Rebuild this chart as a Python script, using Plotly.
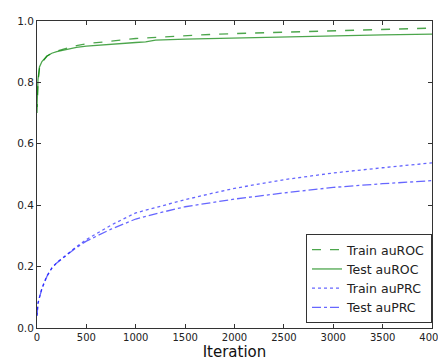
import plotly.graph_objects as go

iterations = [0, 10, 25, 50, 100, 150, 200, 300, 400, 500, 750, 1000, 1100, 1200,
              1500, 1750, 2000, 2500, 3000, 3500, 4000]
train_auroc = [0.70, 0.80, 0.845, 0.865, 0.885, 0.895, 0.902, 0.912, 0.920, 0.926, 0.935,
               0.943, 0.945, 0.947, 0.952, 0.956, 0.959, 0.964, 0.969, 0.973, 0.977]
test_auroc = [0.72, 0.81, 0.850, 0.868, 0.886, 0.895, 0.900, 0.908, 0.914, 0.918, 0.925,
              0.930, 0.932, 0.938, 0.941, 0.943, 0.945, 0.949, 0.952, 0.955, 0.957]
train_auprc = [0.04, 0.08, 0.100, 0.130, 0.170, 0.195, 0.213, 0.240, 0.265, 0.288, 0.335,
               0.375, 0.384, 0.392, 0.418, 0.437, 0.455, 0.483, 0.505, 0.522, 0.538]
test_auprc = [0.04, 0.08, 0.100, 0.128, 0.168, 0.195, 0.212, 0.238, 0.262, 0.283, 0.322,
              0.355, 0.364, 0.372, 0.395, 0.408, 0.420, 0.440, 0.458, 0.470, 0.480]

green = "rgba(0,128,0,0.7)"
blue = "rgba(0,0,255,0.6)"

fig = go.Figure()
fig.add_trace(go.Scatter(x=iterations, y=train_auroc, mode="lines", name="Train auROC",
                         line=dict(color=green, width=1.3, dash="dash")))
fig.add_trace(go.Scatter(x=iterations, y=test_auroc, mode="lines", name="Test auROC",
                         line=dict(color=green, width=1.3, dash="solid")))
fig.add_trace(go.Scatter(x=iterations, y=train_auprc, mode="lines", name="Train auPRC",
                         line=dict(color=blue, width=1.3, dash="dot")))
fig.add_trace(go.Scatter(x=iterations, y=test_auprc, mode="lines", name="Test auPRC",
                         line=dict(color=blue, width=1.3, dash="dashdot")))

axis_common = dict(showgrid=False, zeroline=False, showline=True, linecolor="#333",
                   linewidth=1, mirror="ticks", ticks="inside", ticklen=4, tickcolor="#333",
                   automargin=False, ticklabeloverflow="allow")
fig.update_xaxes(range=[0, 4000], tickvals=[0, 500, 1000, 1500, 2000, 2500, 3000, 3500, 4000],
                 tickfont=dict(family="DejaVu Sans", size=10, color="#222"),
                 title=dict(text="Iteration", font=dict(family="DejaVu Sans", size=15, color="#111"),
                            standoff=4),
                 **axis_common)
fig.update_yaxes(range=[0, 1.0], tickvals=[0, 0.2, 0.4, 0.6, 0.8, 1.0],
                 tickfont=dict(family="DejaVu Sans", size=10.5, color="#222"),
                 tickformat=".1f", **axis_common)
fig.update_layout(
    width=446, height=355,
    margin=dict(l=29, r=22, t=13, b=35),
    plot_bgcolor="white", paper_bgcolor="white",
    legend=dict(x=1.0, xanchor="right", y=0.016, yanchor="bottom",
                bgcolor="white", bordercolor="#333", borderwidth=1,
                font=dict(family="DejaVu Sans", size=12.5, color="#222"),
                itemwidth=30, tracegroupgap=0),
)
fig.write_html("out.html")
